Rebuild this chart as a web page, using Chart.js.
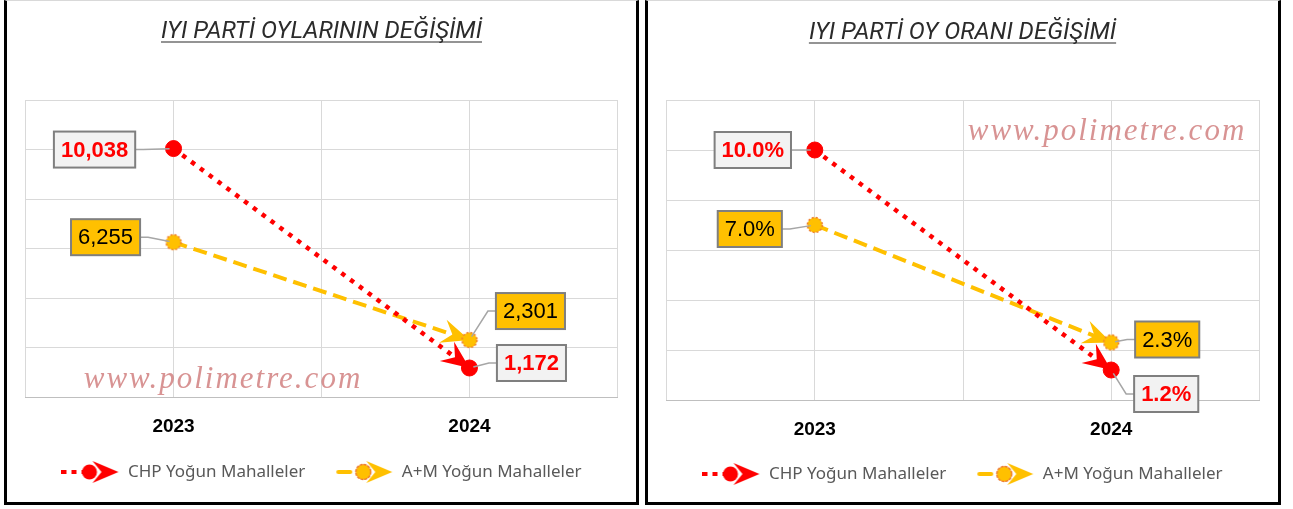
<!DOCTYPE html>
<html>
<head>
<meta charset="utf-8">
<title>IYI Parti</title>
<script src="https://cdn.jsdelivr.net/npm/chart.js@4.4.1/dist/chart.umd.min.js"></script>
<style>
    body { margin: 0; background: #fff; width: 1293px; height: 509px; position: relative; overflow: hidden; }
    .panel { position: absolute; top: 0; height: 501px; border: 3px solid #000; border-top: 1px solid #d9d9d9; background: #fff; }
    .panel canvas { position: absolute; left: 0; top: 0; }
</style>
</head>
<body>
<div class="panel" style="left:4px; width:629px;"><canvas id="votesChart" width="629" height="501"></canvas></div>
<div class="panel" style="left:645px; width:630px;"><canvas id="shareChart" width="630" height="501"></canvas></div>

<script>
// Data
const years = ['2023', '2024'];
const seriesNames = ['CHP Yoğun Mahalleler', 'A+M Yoğun Mahalleler'];
const chpVotes = [10038, 1172];
const amVotes = [6255, 2301];
const chpShare = [10.0, 1.2];
const amShare = [7.0, 2.3];
const votesAxis = [0, 12000, 2000];   // min, max, step
const shareAxis = [0, 12, 2];

const RED = '#ff0000';
const GOLD = '#ffc000';
const ORANGE = '#ed7d31';
const TITLE_SIZE = 24;

// Stealth arrow head, tip at (x, y)
function stealth(g, x, y, angle, len, half, notch) {
    g.save();
    g.translate(x, y);
    g.rotate(angle);
    g.beginPath();
    g.moveTo(0, 0);
    g.lineTo(-len, -half);
    g.lineTo(-len + notch, 0);
    g.lineTo(-len, half);
    g.closePath();
    g.fill();
    g.restore();
}

function drawMarker(g, x, y, series) {
    g.save();
    g.beginPath();
    g.arc(x, y, 7.5, 0, Math.PI * 2);
    if (series === 0) {
        g.fillStyle = RED;
        g.fill();
    } else {
        g.fillStyle = GOLD;
        g.fill();
        g.setLineDash([2, 2]);
        g.strokeStyle = ORANGE;
        g.lineWidth = 1.5;
        g.stroke();
    }
    g.restore();
}

function makeMarker(series) {
    const c = document.createElement('canvas');
    c.width = 20; c.height = 20;
    drawMarker(c.getContext('2d'), 10, 10, series);
    return c;
}

function makeLegendIcon(series) {
    const c = document.createElement('canvas');
    c.width = 58; c.height = 26;
    const g = c.getContext('2d');
    const y = 13;
    g.lineWidth = 4;
    g.beginPath();
    if (series === 0) {
        g.strokeStyle = RED;
        g.setLineDash([5, 5]);
        g.moveTo(0, y); g.lineTo(22, y);
    } else {
        g.strokeStyle = GOLD;
        g.lineCap = 'round';
        g.moveTo(3, y); g.lineTo(15, y);
    }
    g.stroke();
    g.setLineDash([]);
    g.fillStyle = series === 0 ? RED : GOLD;
    stealth(g, 57, y, 0, 26, 11, 9);
    drawMarker(g, 28, y, series);
    return c;
}

// Plugins
const titleUnderline = {
    id: 'titleUnderline',
    afterDraw(chart) {
        const t = chart.titleBlock;
        const o = chart.options.plugins.title;
        if (!t) return;
        const ctx = chart.ctx;
        ctx.save();
        ctx.font = 'italic ' + TITLE_SIZE + 'px Roboto';
        const w = ctx.measureText(o.text).width;
        const cx = (t.left + t.right) / 2;
        const y = t.top + o.padding.top + TITLE_SIZE * 0.6 + 10;
        ctx.strokeStyle = o.color;
        ctx.lineWidth = 1.2;
        ctx.beginPath();
        ctx.moveTo(cx - w / 2, y);
        ctx.lineTo(cx + w / 2, y);
        ctx.stroke();
        ctx.restore();
    }
};

const watermark = {
    id: 'watermark',
    beforeDatasetsDraw(chart, args, opts) {
        const ctx = chart.ctx;
        ctx.save();
        ctx.font = 'italic 31px "Liberation Serif", "DejaVu Serif", serif';
        ctx.letterSpacing = '2px';
        ctx.fillStyle = 'rgba(192, 80, 80, 0.62)';
        ctx.textAlign = 'center';
        ctx.textBaseline = 'alphabetic';
        ctx.fillText(opts.text, opts.x, opts.y);
        ctx.restore();
    }
};

const arrowHeads = {
    id: 'arrowHeads',
    beforeDatasetsDraw(chart) {
        const ctx = chart.ctx;
        chart.data.datasets.forEach((ds, i) => {
            const pts = chart.getDatasetMeta(i).data;
            const a = pts[pts.length - 2], b = pts[pts.length - 1];
            const ang = Math.atan2(b.y - a.y, b.x - a.x);
            ctx.fillStyle = ds.borderColor;
            stealth(ctx, b.x, b.y, ang, 28, 12, 10);
        });
    }
};

const boxLabels = {
    id: 'boxLabels',
    afterDatasetsDraw(chart, args, opts) {
        const ctx = chart.ctx;
        chart.data.datasets.forEach((ds, i) => {
            const pts = chart.getDatasetMeta(i).data;
            pts.forEach((pt, j) => {
                const [dx, dy] = opts.offsets[i][j];
                const text = opts.format(ds.data[j].y);
                ctx.save();
                ctx.font = (i === 0 ? 'bold ' : '') + '22px Arial, "Liberation Sans"';
                const w = ctx.measureText(text).width + 14, h = 36;
                const cx = pt.x + dx, cy = pt.y + dy;
                const edge = dx < 0 ? cx + w / 2 : cx - w / 2;
                const bend = dx < 0 ? edge + 8 : edge - 8;
                const ang = Math.atan2(pt.y - cy, pt.x - bend);
                // leader line
                ctx.strokeStyle = '#a6a6a6';
                ctx.lineWidth = 1.5;
                ctx.beginPath();
                ctx.moveTo(edge, cy);
                ctx.lineTo(bend, cy);
                ctx.lineTo(pt.x - Math.cos(ang) * 4, pt.y - Math.sin(ang) * 4);
                ctx.stroke();
                // box
                ctx.fillStyle = i === 0 ? '#f2f2f2' : GOLD;
                ctx.fillRect(cx - w / 2, cy - h / 2, w, h);
                ctx.strokeStyle = '#7f7f7f';
                ctx.lineWidth = 2;
                ctx.strokeRect(cx - w / 2, cy - h / 2, w, h);
                ctx.fillStyle = i === 0 ? RED : '#000';
                ctx.textAlign = 'center';
                ctx.textBaseline = 'middle';
                ctx.fillText(text, cx, cy + 1);
                ctx.restore();
            });
        });
    }
};

function toPoints(values) {
    return values.map((v, i) => ({ x: i * 2 + 1, y: v }));
}

function makeChart(canvasId, cfg) {
    const ctx = document.getElementById(canvasId);
    return new Chart(ctx, {
        type: 'line',
        data: {
            datasets: [
                {
                    label: seriesNames[0],
                    data: toPoints(cfg.chp),
                    borderColor: RED,
                    backgroundColor: RED,
                    borderWidth: 4.5,
                    borderDash: [4.5, 6.5],
                    borderCapStyle: 'butt',
                    pointStyle: 'circle',
                    pointRadius: 8,
                    pointBackgroundColor: RED,
                    pointBorderColor: RED,
                    pointBorderWidth: 1,
                    tension: 0
                },
                {
                    label: seriesNames[1],
                    data: toPoints(cfg.am),
                    borderColor: GOLD,
                    backgroundColor: GOLD,
                    borderWidth: 4,
                    borderDash: [14, 7],
                    borderCapStyle: 'butt',
                    pointStyle: makeMarker(1),
                    pointRadius: 8,
                    tension: 0
                }
            ]
        },
        options: {
            responsive: false,
            animation: false,
            layout: { padding: cfg.padding },
            scales: {
                x: {
                    type: 'linear',
                    min: 0,
                    max: 4,
                    afterFit(s) { s.height = cfg.axisHeight; },
                    ticks: {
                        stepSize: 1,
                        autoSkip: false,
                        maxRotation: 0,
                        padding: cfg.tickPad,
                        color: '#000',
                        font: { family: 'Arial, "Liberation Sans"', size: 19, weight: 'bold' },
                        callback: v => (v % 2 === 1 ? years[(v - 1) / 2] : '')
                    },
                    grid: { color: '#d9d9d9', lineWidth: 1, drawTicks: false },
                    border: { color: '#bfbfbf', width: 1 }
                },
                y: {
                    min: cfg.axis[0],
                    max: cfg.axis[1],
                    afterFit(s) { s.width = 0; },
                    ticks: { display: false, stepSize: cfg.axis[2] },
                    grid: { color: '#d9d9d9', lineWidth: 1, drawTicks: false },
                    border: { display: false }
                }
            },
            plugins: {
                tooltip: { enabled: false },
                title: {
                    display: true,
                    text: cfg.title,
                    color: '#2b2b2b',
                    font: { family: 'Roboto', size: TITLE_SIZE, style: 'italic', weight: 'normal', lineHeight: 1.2 },
                    padding: cfg.titlePad
                },
                legend: {
                    position: 'bottom',
                    labels: {
                        usePointStyle: true,
                        pointStyleWidth: 58,
                        padding: 30,
                        color: '#595959',
                        font: { family: '"Noto Sans"', size: 17 },
                        generateLabels: () => seriesNames.map((name, i) => ({
                            text: name,
                            pointStyle: makeLegendIcon(i),
                            fillStyle: 'transparent',
                            strokeStyle: 'transparent',
                            lineWidth: 0,
                            fontColor: '#595959',
                            hidden: false,
                            datasetIndex: i
                        }))
                    }
                },
                watermark: cfg.watermark,
                boxLabels: { offsets: cfg.offsets, format: cfg.format }
            }
        },
        plugins: [watermark, arrowHeads, boxLabels, titleUnderline]
    });
}

document.addEventListener('DOMContentLoaded', function() {
    makeChart('votesChart', {
        title: 'IYI PARTİ OYLARININ DEĞİŞİMİ',
        chp: chpVotes,
        am: amVotes,
        axis: votesAxis,
        padding: { left: 18, right: 18, top: 0, bottom: 11.5 },
        titlePad: { top: 16.6, bottom: 53.6 },
        axisHeight: 36.5,
        tickPad: 18.6,
        watermark: { text: 'www.polimetre.com', x: 216, y: 387 },
        offsets: [[[-79, 1], [62, -5]], [[-68, -5], [61, -29]]],
        format: v => v.toLocaleString('en-US')
    });

    makeChart('shareChart', {
        title: 'IYI PARTİ OY ORANI DEĞİŞİMİ',
        chp: chpShare,
        am: amShare,
        axis: shareAxis,
        padding: { left: 17, right: 18, top: 0, bottom: 9.5 },
        titlePad: { top: 17.6, bottom: 52.6 },
        axisHeight: 35.5,
        tickPad: 18.6,
        watermark: { text: 'www.polimetre.com', x: 459, y: 139 },
        offsets: [[[-62, 0], [55, 24]], [[-65, 4], [56, -3]]],
        format: v => v.toFixed(1) + '%'
    });
});
</script>
</body>
</html>
